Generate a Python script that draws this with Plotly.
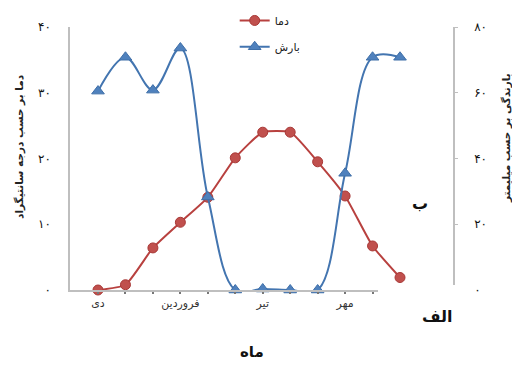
import plotly.graph_objects as go

months = ["دی", "بهمن", "اسفند", "فروردین", "اردیبهشت", "خرداد",
          "تیر", "مرداد", "شهریور", "مهر", "آبان", "آذر"]
temperature = [0, 0.8, 6.4, 10.3, 14.1, 20.1, 24.0, 24.0, 19.5, 14.3, 6.7, 1.9]
precipitation = [60.5, 70.8, 60.8, 73.6, 28.3, 0, 0.3, 0, 0, 35.5, 70.8, 70.8]
shown_months = ["دی", "فروردین", "تیر", "مهر"]
left_ticks = [0, 10, 20, 30, 40]
left_tick_text = ["۰", "۱۰", "۲۰", "۳۰", "۴۰"]
right_ticks = [0, 20, 40, 60, 80]
right_tick_text = ["۰", "۲۰", "۴۰", "۶۰", "۸۰"]

x = list(range(1, len(months) + 1))
tick_text = [m if m in shown_months else "" for m in months]

FONT = "DejaVu Sans"
RED = "#C0504D"
BLUE = "#4F81BD"
AX = "#BFBFBF"

fig = go.Figure()
fig.add_trace(go.Scatter(
    x=x, y=temperature, name="دما", mode="lines+markers",
    line=dict(color="#B8413F", width=2, shape="spline", smoothing=0.5),
    marker=dict(symbol="circle", size=10, color=RED, line=dict(color="#A83836", width=1)),
    cliponaxis=False, legend="legend",
))
fig.add_trace(go.Scatter(
    x=x, y=precipitation, name="بارش", mode="lines+markers", yaxis="y2",
    line=dict(color="#4375B0", width=2, shape="spline", smoothing=1),
    marker=dict(symbol="triangle-up", size=11, color=BLUE, line=dict(color="#3F6FA8", width=1)),
    cliponaxis=False, legend="legend2",
))


def px(xp):
    return (xp - 70) / 383


def py(yp):
    return (290 - yp) / 263


def label(text, xs, ys, size, angle=0, color="#111"):
    return dict(text=text, textangle=angle, showarrow=False,
                xref="paper", yref="paper", x=px(xs), y=py(ys),
                xanchor="center", yanchor="middle",
                font=dict(size=size, family=FONT, color=color))


fig.update_layout(
    width=512, height=365,
    margin=dict(l=70, r=59, t=27, b=75, autoexpand=False),
    paper_bgcolor="white", plot_bgcolor="white",
    font=dict(family=FONT, color="#222", size=11),
    xaxis=dict(
        range=[-0.02, 13.93], tickvals=x, ticktext=tick_text,
        showline=True, linecolor=AX, linewidth=1.5, showgrid=False, zeroline=False,
        ticks="outside", ticklen=2, tickcolor="#777", tickwidth=2,
        tickfont=dict(size=11, family=FONT, color="#333"),
    ),
    yaxis=dict(
        range=[0, 40], tickvals=left_ticks, ticktext=left_tick_text,
        showline=True, linecolor=AX, linewidth=1.5, showgrid=False, zeroline=False,
        ticks="", ticklabelstandoff=15,
        tickfont=dict(size=12, family=FONT, color="#111"),
    ),
    yaxis2=dict(
        range=[0, 80], tickvals=right_ticks, ticktext=right_tick_text,
        overlaying="y", side="right",
        showline=True, linecolor=AX, linewidth=1.5, showgrid=False, zeroline=False,
        ticks="outside", ticklen=3, tickcolor=AX, ticklabelstandoff=14,
        tickfont=dict(size=12, family=FONT, color="#111"),
    ),
    legend=dict(
        x=0.43, y=1.08, xanchor="left", yanchor="top", bgcolor="rgba(0,0,0,0)",
        font=dict(size=11, family=FONT, color="#222"),
    ),
    legend2=dict(
        x=0.43, y=0.98, xanchor="left", yanchor="top", bgcolor="rgba(0,0,0,0)",
        font=dict(size=11, family=FONT, color="#222"),
    ),
    showlegend=True,
    shapes=[dict(
        type="rect", xref="paper", yref="paper", layer="above",
        x0=px(378), x1=px(467), y0=py(285), y1=py(372),
        fillcolor="white", line=dict(width=0),
    )],
    annotations=[
        label("<b>دما بر حسب درجه سانتیگراد</b>", 19, 147, 10.5, angle=-90, color="#222"),
        label("<b>بارندگی بر حسب میلیمتر</b>", 506, 138, 10.5, angle=-90, color="#222"),
        label("<b>ب</b>", 420, 203, 16),
        label("<b>الف</b>", 437, 316, 16),
        label("<b>ماه</b>", 252, 352, 15),
    ],
)

fig.write_html(
    "out.html",
    config={"displayModeBar": False},
    post_script="document.body.style.margin='0';document.body.style.overflow='hidden';",
)
